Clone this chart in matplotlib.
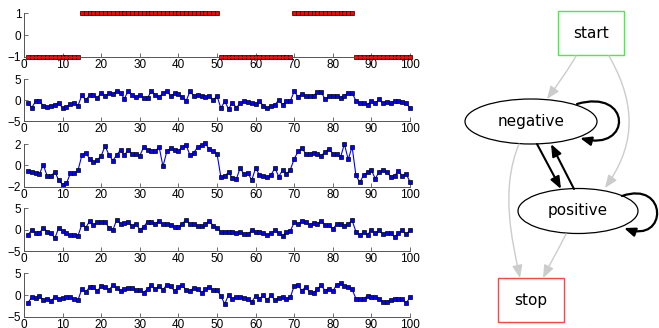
import numpy as np
import matplotlib
matplotlib.use("Agg")
import matplotlib.pyplot as plt
from matplotlib.patches import Rectangle, Ellipse, FancyArrowPatch
from matplotlib.path import Path

# ---------------- data ----------------
x = np.arange(1, 101)

state = [-1, -1, -1, -1, -1, -1, -1, -1, -1, -1, -1, -1, -1, -1,
         1, 1, 1, 1, 1, 1, 1, 1, 1, 1, 1, 1, 1, 1, 1, 1, 1, 1, 1, 1, 1, 1,
         1, 1, 1, 1, 1, 1, 1, 1, 1, 1, 1, 1, 1, 1,
         -1, -1, -1, -1, -1, -1, -1, -1, -1, -1, -1, -1, -1, -1, -1, -1, -1, -1, -1,
         1, 1, 1, 1, 1, 1, 1, 1, 1, 1, 1, 1, 1, 1, 1, 1,
         -1, -1, -1, -1, -1, -1, -1, -1, -1, -1, -1, -1, -1, -1, -1]

obs1 = [-0.6, -1.8, -0.3, -0.3, -1.3, -1.6, -1.4, -1.1, -0.6, -1.9,
        -1.6, -1.0, -0.6, -1.3, 1.2, 0.0, 1.2, 1.2, 0.5, 1.8,
        1.0, 1.6, 1.4, 2.2, 1.8, 0.3, 2.3, 1.3, 0.8, 1.2,
        0.5, 0.5, 2.2, 1.3, 0.8, 1.6, 2.2, 1.0, 1.6, 1.4,
        0.8, -0.2, 2.1, 1.0, 1.3, 1.1, 0.8, 1.0, 0.0, 1.0,
        -1.9, -0.3, -2.1, -0.6, -1.8, -0.8, -0.2, -0.5, -0.6, -1.0,
        -0.3, -1.3, -1.8, -1.4, -1.1, 0.0, -1.1, -0.2, -0.2, 2.1,
        0.8, 1.5, 1.0, 1.0, 1.0, 2.0, 2.0, 0.2, 0.9, 0.9,
        1.0, 0.6, 1.1, 1.8, 1.8, -0.2, -0.6, -0.8, -1.1, -0.2,
        -0.8, 0.2, -0.8, -0.5, -0.6, -0.3, -0.2, -0.5, -0.8, -1.8]

obs2 = [-0.55, -0.65, -0.7, -0.8, 0.05, -1.0, -1.0, -0.6, -1.4, -1.8,
        -1.7, -0.75, -0.75, -0.45, 0.95, 1.2, 0.6, 0.3, 0.5, 0.9,
        1.8, 1.0, 0.45, 0.95, 1.45, 0.95, 1.45, 1.05, 1.1, 0.9,
        1.7, 1.4, 1.3, 1.3, 1.75, -0.1, 1.3, 1.6, 1.4, 1.3,
        1.75, 1.9, 0.95, 1.2, 1.7, 1.9, 2.05, 1.5, 1.3, 1.1,
        -1.1, -1.0, -0.65, -1.2, -1.3, -0.25, -0.85, -0.7, -1.4, -0.25,
        -0.9, -1.0, -1.1, -0.9, -0.25, -1.05, -0.45, -0.8, -0.4, 0.6,
        1.3, 1.6, 1.1, 1.1, 1.2, 1.05, 0.9, 1.25, 1.55, 1.1,
        1.1, 0.75, 2.0, 0.55, 1.75, -0.95, -1.6, -0.9, -0.65, -0.45,
        -1.25, -0.6, -0.45, -0.65, -1.05, -1.0, -0.5, -1.0, -0.8, -1.55]

obs3 = [-1.25, -0.15, -0.8, -0.8, 0.45, -0.5, -0.8, -2.0, 0.45, -0.3,
        -0.9, -1.25, -1.25, -1.4, 1.25, 0.45, 2.0, 1.1, 1.7, 1.9,
        1.9, 0.45, -0.15, 2.3, 1.4, 1.55, 1.7, 0.8, 1.4, 0.0,
        0.6, 1.9, 1.9, 1.4, 2.0, 1.4, 1.4, 1.1, 0.6, 0.6,
        1.4, 2.3, 1.25, 1.25, 0.95, 0.8, 1.4, 2.0, 0.95, 0.45,
        -0.5, -0.6, -0.6, -0.5, -0.9, -0.6, -1.1, -1.1, -0.15, -0.5,
        -0.6, -0.9, -1.25, -0.9, -0.15, -0.9, -1.5, -0.5, -0.3, 1.7,
        1.25, 2.0, 1.7, 1.1, 1.55, 1.4, 2.0, 1.1, 1.1, 0.15,
        1.25, 1.25, 0.95, 1.25, 2.2, -0.5, -1.25, -0.6, -1.25, 0.0,
        -0.9, -0.15, -1.1, -0.8, -0.8, -1.7, -0.9, -0.15, -1.1, -0.15]

obs4 = [-1.8, -0.55, -0.7, -0.25, -1.15, -1.0, -1.45, -0.4, -0.85, -0.7,
        -0.4, -0.55, -1.0, -1.15, 1.45, 0.7, 1.8, 1.8, 0.85, 2.1,
        1.8, 1.15, 2.2, 1.6, 1.0, 1.45, 1.6, 1.6, 1.15, 1.15,
        0.55, 1.45, 2.2, 1.3, 2.1, 1.15, 2.4, 2.1, 0.85, 1.9,
        2.2, 1.15, 1.0, 1.6, 1.3, 0.55, 1.3, 1.8, 1.15, 1.15,
        -0.2, -2.1, 0.1, -1.0, -0.5, -0.5, -0.7, -1.0, -1.6, -0.2,
        -0.85, -0.1, -1.15, -0.1, -1.15, -0.7, -0.5, -0.85, -0.5, 2.1,
        2.2, 1.0, 1.9, 0.7, 0.4, 1.45, 2.2, 1.0, 1.45, 0.85,
        2.4, 2.7, 2.1, 1.8, 1.3, -0.85, -0.85, -0.85, -0.2, -0.4,
        -0.5, -0.85, -1.5, -1.5, -1.15, -1.0, -0.85, -0.85, -1.9, -0.5]

series = [obs1, obs2, obs3, obs4]
ylims = [(-5, 5), (-2, 2), (-5, 5), (-5, 5)]
yticks = [[-5, 0, 5], [-2, 0, 2], [-5, 0, 5], [-5, 0, 5]]
xticks = list(range(0, 101, 10))

node_labels = ["start", "negative", "positive", "stop"]

# ---------------- figure ----------------
plt.rcParams['font.family'] = ['Liberation Sans', 'DejaVu Sans']
W, H = 659, 328
fig = plt.figure(figsize=(W / 100, H / 100), dpi=100)

# axes rectangles in pixels: (top, bottom)
rows_px = [(13.3, 56.7), (79.3, 121.0), (144.0, 186.7), (208.3, 251.0), (273.3, 316.7)]
left_px, right_px = 24, 410

def style(ax):
    for s in ['top', 'right']:
        ax.spines[s].set_visible(False)
    for s in ['left', 'bottom']:
        ax.spines[s].set_color('#555555')
        ax.spines[s].set_linewidth(0.7)
    ax.tick_params(direction='in', length=3, width=0.6, color='#555555',
                   labelsize=8.5, pad=2, labelcolor='black')
    ax.tick_params(axis='x', pad=1.5)
    ax.set_xlim(0, 100)
    ax.set_xticks(xticks)
    ax.set_facecolor('none')

axes = []
for (t, b) in rows_px:
    ax = fig.add_axes([left_px / W, 1 - b / H, (right_px - left_px) / W, (b - t) / H])
    style(ax)
    axes.append(ax)

axes[0].plot(x, state, linestyle='none', marker='s', ms=3.0, mfc='red',
             mec='black', mew=0.5, clip_on=False)
axes[0].set_ylim(-1, 1)
axes[0].set_yticks([-1, 0, 1])

for ax, s, yl, yt in zip(axes[1:], series, ylims, yticks):
    ax.plot(x, s, '-', color='blue', lw=0.8, marker='s', ms=3.3, mfc='blue',
            mec='black', mew=0.5, clip_on=False)
    ax.set_ylim(*yl)
    ax.set_yticks(yt)

# ---------------- state diagram ----------------
ad = fig.add_axes([0, 0, 1, 1])
ad.set_xlim(0, W)
ad.set_ylim(H, 0)
ad.axis('off')
ad.set_facecolor('none')

fs = 11
ad.add_patch(Rectangle((558, 11), 66, 44, fill=False, ec='#44ee44', lw=1.0))
ad.text(591, 33, node_labels[0], ha='center', va='center', fontsize=fs, family='DejaVu Sans')
ad.add_patch(Ellipse((531, 121.5), 132, 45, fill=False, ec='black', lw=0.9))
ad.text(531, 121.5, node_labels[1], ha='center', va='center', fontsize=fs, family='DejaVu Sans')
ad.add_patch(Ellipse((578, 211), 120, 45, fill=False, ec='black', lw=0.9))
ad.text(578, 211, node_labels[2], ha='center', va='center', fontsize=fs, family='DejaVu Sans')
ad.add_patch(Rectangle((498, 278), 66, 44, fill=False, ec='#ff4444', lw=1.0))
ad.text(531, 300, node_labels[3], ha='center', va='center', fontsize=fs, family='DejaVu Sans')

gray = '#cccccc'
astyle = '-|>,head_length=0.55,head_width=0.22'

def curve(pts, color, lw, ms=14):
    codes = [Path.MOVETO] + [Path.CURVE4] * (len(pts) - 1)
    p = FancyArrowPatch(path=Path(pts, codes), arrowstyle=astyle,
                        mutation_scale=ms, color=color, lw=lw,
                        shrinkA=0, shrinkB=0)
    ad.add_patch(p)

def line(a, b, color, lw):
    p = FancyArrowPatch(a, b, arrowstyle=astyle, mutation_scale=13,
                        color=color, lw=lw, shrinkA=0, shrinkB=0)
    ad.add_patch(p)

# gray edges
curve([(576, 56), (568, 70), (558, 84), (547, 99)], gray, 1.0)
curve([(609, 56), (640, 110), (632, 150), (605, 188)], gray, 1.0)
curve([(519, 144), (500, 190), (512, 240), (520, 278)], gray, 1.0)
curve([(566, 234), (558, 250), (550, 264), (543, 278)], gray, 1.0)

# black edges
line((537, 144), (561, 189), 'black', 1.5)
line((574, 189), (551, 144), 'black', 1.5)

# self loops
curve([(577, 104), (632, 88), (632, 152), (580, 138)], 'black', 1.6, ms=12)
curve([(622, 196), (668, 180), (668, 244), (624, 228)], 'black', 1.6, ms=12)

fig.savefig('out.png', dpi=100)
